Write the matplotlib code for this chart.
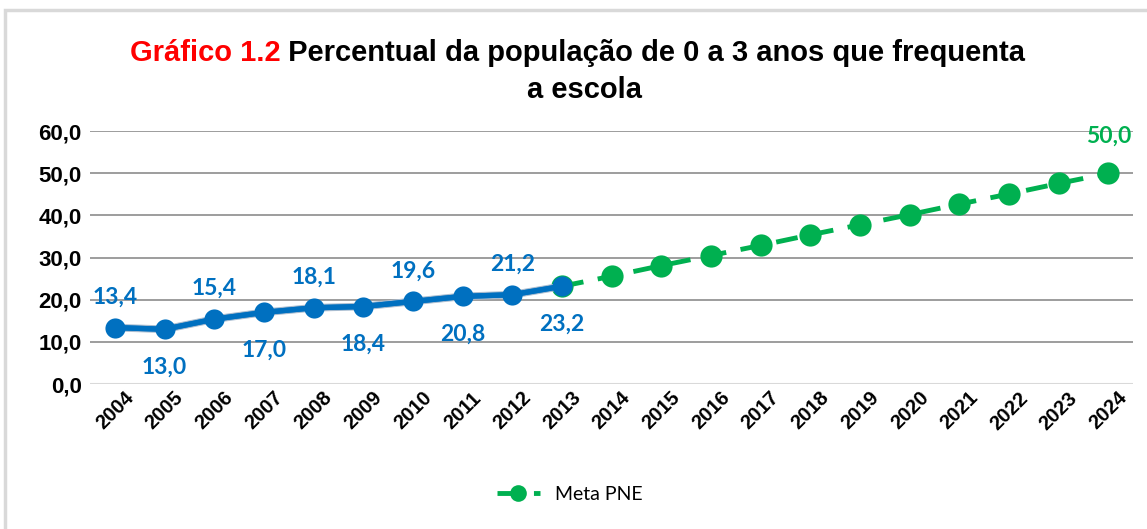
import matplotlib
matplotlib.use("Agg")
import matplotlib.pyplot as plt
import matplotlib.patheffects as pe
from matplotlib.patches import Rectangle

years = [str(y) for y in range(2004, 2025)]
real_years_idx = list(range(0, 10))          # 2004-2013
real_values = [13.4, 13.0, 15.4, 17.0, 18.1, 18.4, 19.6, 20.8, 21.2, 23.2]
meta_years_idx = list(range(9, 21))          # 2013-2024
meta_values = [23.2, 25.6, 28.1, 30.5, 32.9, 35.4, 37.8, 40.2, 42.7, 45.1, 47.6, 50.0]
yticks = [0, 10, 20, 30, 40, 50, 60]
ytick_labels = ["0,0", "10,0", "20,0", "30,0", "40,0", "50,0", "60,0"]

BLUE = "#0070C0"
GREEN = "#00B050"

fig = plt.figure(figsize=(11.47, 5.29), dpi=100)
fig.patch.set_facecolor("white")
fig.patches.append(Rectangle((0.004, -0.01), 1.0, 1 - 10/529 + 0.01, transform=fig.transFigure,
                             fill=False, edgecolor="#d9d9d9", linewidth=2.5))

ax = fig.add_axes([0.0785, 0.274, 0.9095, 0.478])

# Meta PNE (green dashed)
ax.plot(meta_years_idx, meta_values, color=GREEN, linewidth=3.5, linestyle=(0, (4.5, 3)),
        marker="o", markersize=16, markeredgewidth=0, label="Meta PNE", zorder=3,
        dash_capstyle="butt")
# real series (blue) - line with light shadow, then markers
ax.plot(real_years_idx, real_values, color=BLUE, linewidth=3.8, zorder=4,
        path_effects=[pe.withStroke(linewidth=5.5, foreground="#a8bcd0"), pe.Normal()])
ax.plot(real_years_idx, real_values, color=BLUE, linestyle="none", marker="o", markersize=14.5,
        markeredgewidth=0, zorder=4.5)

# data labels
for i, (x, v) in enumerate(zip(real_years_idx, real_values)):
    above = (i % 2 == 0)
    off = 22 if above else -27
    ax.annotate(f"{v:.1f}".replace(".", ","), (x, v), xytext=(0, off), textcoords="offset points",
                ha="center", va="center", color=BLUE, fontsize=16.5, fontweight="bold",
                family="Lato", zorder=5)
ax.annotate(f"{meta_values[-1]:.1f}".replace(".", ","), (meta_years_idx[-1], meta_values[-1]),
            xytext=(0, 27), textcoords="offset points", ha="center", va="center",
            color=GREEN, fontsize=16.5, fontweight="bold", family="Lato", zorder=5)

ax.set_xlim(-0.5, 20.5)
ax.set_ylim(0, 60)
ax.set_yticks(yticks)
ax.set_yticklabels(ytick_labels, fontsize=16, fontweight="bold", family="Liberation Sans")
ax.set_xticks(range(len(years)))
ax.set_xticklabels(years, rotation=45, ha="center", va="top", fontsize=14.5,
                   fontweight="bold", family="Liberation Sans")
ax.tick_params(axis="both", length=0, pad=6)
ax.tick_params(axis="x", pad=3)
for s in ax.spines.values():
    s.set_visible(False)
ax.grid(axis="y", color="#8c8c8c", linewidth=1.2, zorder=0)
ax.set_axisbelow(True)
ax.axhline(0, color="#d9d9d9", linewidth=1.5, zorder=1)

# legend
leg = fig.legend(loc="center", bbox_to_anchor=(0.497, 0.066), frameon=False,
                 prop={"family": "Lato", "size": 14}, handlelength=2.2, markerscale=0.75)

# title
t1 = fig.text(0.113, 0.885, "Gráfico 1.2", color="#FF0000", fontsize=21, fontweight="bold",
              family="Liberation Sans", ha="left", va="baseline")
ax.annotate(" Percentual da população de 0 a 3 anos que frequenta", xy=(1, 0), xycoords=t1,
            ha="left", va="bottom", fontsize=21, fontweight="bold", family="Liberation Sans",
            color="black", annotation_clip=False)
fig.text(0.51, 0.815, "a escola", color="black", fontsize=21, fontweight="bold",
         family="Liberation Sans", ha="center", va="baseline")

fig.savefig("out.png", dpi=100)
